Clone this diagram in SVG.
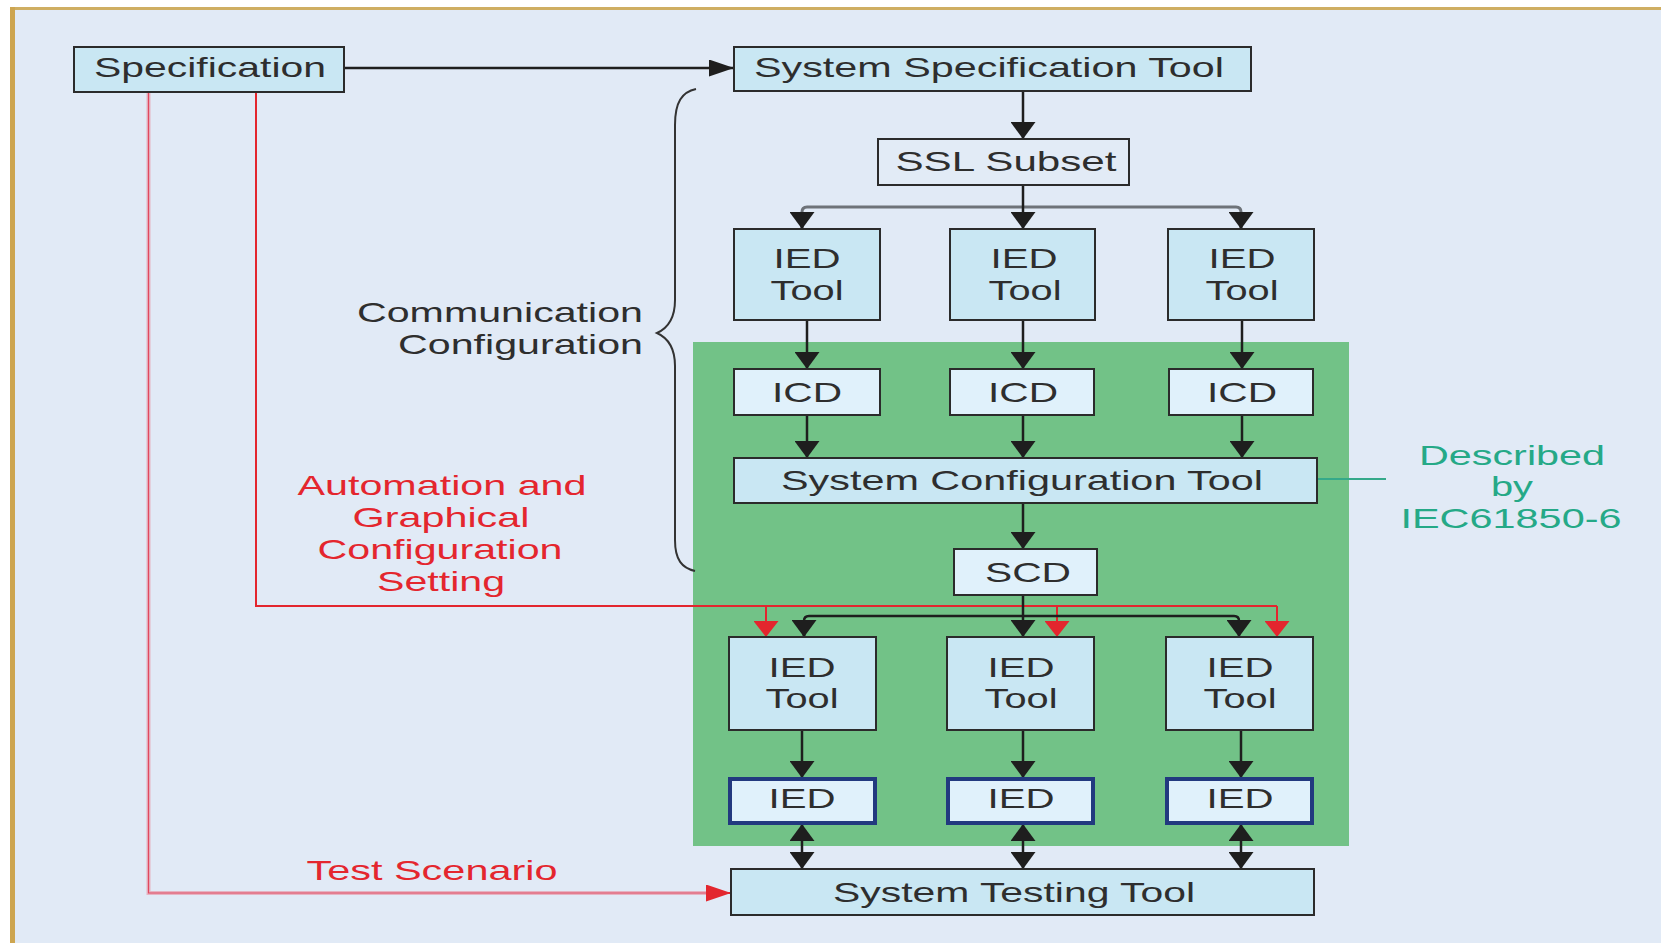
<svg xmlns="http://www.w3.org/2000/svg" width="1661" height="943" viewBox="0 0 1661 943">
  <style>
    .t { font-family: "Liberation Sans", Arial, sans-serif; font-size: 28px; fill: #2e2e2e; text-anchor: middle; }
    .tr { fill: #e4262e; }
    .tg { fill: #25a987; }
    .tl { text-anchor: end; }
    .box { fill: #c9e7f3; stroke: #2b2b2b; stroke-width: 2; }
    .lbox { fill: #e0f1fb; stroke: #2b2b2b; stroke-width: 2; }
    .plain { fill: #e2ebf6; stroke: #2b2b2b; stroke-width: 2; }
    .ied { fill: #e0f1fb; stroke: #22397f; stroke-width: 4; }
    .ln { fill: none; stroke: #1e1e1e; stroke-width: 2.5; }
    .grey { fill: none; stroke: #6e7379; stroke-width: 3; }
    .red { fill: none; stroke: #e3262e; stroke-width: 2; }
    .pinkO { fill: none; stroke: #e6b3c2; stroke-width: 4; }
    .pinkI { fill: none; stroke: #e0485e; stroke-width: 1.2; }
  </style>
  <defs>
    <marker id="ahV" markerUnits="userSpaceOnUse" markerWidth="17" markerHeight="25" viewBox="0 0 17 25" refX="17" refY="12.5" orient="auto-start-reverse">
      <path d="M0,0 L17,12.5 L0,25 Z" fill="#1e1e1e"/>
    </marker>
    <marker id="ahH" markerUnits="userSpaceOnUse" markerWidth="25" markerHeight="17" viewBox="0 0 25 17" refX="25" refY="8.5" orient="auto">
      <path d="M0,0 L25,8.5 L0,17 Z" fill="#1e1e1e"/>
    </marker>
    <marker id="ahVr" markerUnits="userSpaceOnUse" markerWidth="16" markerHeight="25" viewBox="0 0 16 25" refX="16" refY="12.5" orient="auto">
      <path d="M0,0 L16,12.5 L0,25 Z" fill="#e3262e"/>
    </marker>
    <marker id="ahHr" markerUnits="userSpaceOnUse" markerWidth="25" markerHeight="17" viewBox="0 0 25 17" refX="25" refY="8.5" orient="auto">
      <path d="M0,0 L25,8.5 L0,17 Z" fill="#e3262e"/>
    </marker>
  </defs>

  <!-- page and frame -->
  <rect x="0" y="0" width="1661" height="943" fill="#ffffff"/>
  <rect x="10" y="7" width="1651" height="936" fill="#e1eaf6"/>
  <rect x="10" y="7" width="1651" height="3" fill="#cfae62"/>
  <rect x="10" y="7" width="5" height="936" fill="#cda550"/>

  <!-- shaded region -->
  <rect id="iec-area" x="693" y="342" width="656" height="504" fill="#72c287"/>

  <!-- brace -->
  <path id="brace" d="M696,89 C682,92 675,102 675,125 L675,300 C675,318 668,328 657,333 C668,338 675,348 675,366 L675,540 C675,560 682,568 695,571" fill="none" stroke="#333" stroke-width="2"/>

  <!-- connectors -->
  <g id="connectors">
    <!-- specification paths -->
    <path class="pinkO" d="M148.5,92 L148.5,893 L708,893"/>
    <path class="pinkI" d="M148.5,92 L148.5,893 L708,893"/>
    <path class="red" d="M706,893 L731,893" marker-end="url(#ahHr)"/>
    <path class="red" d="M256,92 L256,606 L1277,606"/>
    <path class="red" d="M766,606 L766,637" marker-end="url(#ahVr)"/>
    <path class="red" d="M1057,606 L1057,637" marker-end="url(#ahVr)"/>
    <path class="red" d="M1277,606 L1277,637" marker-end="url(#ahVr)"/>
    <path class="ln" d="M344,68 L734,68" marker-end="url(#ahH)"/>
    <!-- system specification to SSL -->
    <path class="ln" d="M1023,91 L1023,139" marker-end="url(#ahV)"/>
    <!-- SSL fan-out -->
    <path class="grey" d="M802,229 L802,212 Q802,207 807,207 L1236,207 Q1241,207 1241,212 L1241,229"/>
    <path class="ln" d="M1023,185 L1023,229" marker-end="url(#ahV)"/>
    <path class="ln" d="M802,212 L802,229" marker-end="url(#ahV)"/>
    <path class="ln" d="M1241,212 L1241,229" marker-end="url(#ahV)"/>
    <!-- IED tools to ICD -->
    <path class="ln" d="M807,320 L807,369" marker-end="url(#ahV)"/>
    <path class="ln" d="M1023,320 L1023,369" marker-end="url(#ahV)"/>
    <path class="ln" d="M1242,320 L1242,369" marker-end="url(#ahV)"/>
    <!-- ICD to system configuration -->
    <path class="ln" d="M807,415 L807,458" marker-end="url(#ahV)"/>
    <path class="ln" d="M1023,415 L1023,458" marker-end="url(#ahV)"/>
    <path class="ln" d="M1242,415 L1242,458" marker-end="url(#ahV)"/>
    <!-- system configuration to SCD -->
    <path class="ln" d="M1023,503 L1023,549" marker-end="url(#ahV)"/>
    <!-- SCD fan-out -->
    <path class="ln" d="M804,637 L804,621 Q804,616 809,616 L1234,616 Q1239,616 1239,621 L1239,637" marker-end="url(#ahV)"/>
    <path class="ln" d="M804,621 L804,637" marker-end="url(#ahV)"/>
    <path class="ln" d="M1023,595 L1023,637" marker-end="url(#ahV)"/>
    <!-- IED tools to IEDs -->
    <path class="ln" d="M802,730 L802,778" marker-end="url(#ahV)"/>
    <path class="ln" d="M1023,730 L1023,778" marker-end="url(#ahV)"/>
    <path class="ln" d="M1241,730 L1241,778" marker-end="url(#ahV)"/>
    <!-- IEDs to testing tool -->
    <path class="ln" d="M802,824 L802,869" marker-start="url(#ahV)" marker-end="url(#ahV)"/>
    <path class="ln" d="M1023,824 L1023,869" marker-start="url(#ahV)" marker-end="url(#ahV)"/>
    <path class="ln" d="M1241,824 L1241,869" marker-start="url(#ahV)" marker-end="url(#ahV)"/>
    <!-- standard reference -->
    <path d="M1317,479 L1386,479" fill="none" stroke="#35a98a" stroke-width="2"/>
  </g>

  <g id="specification">
    <rect class="box" x="74" y="47" width="270" height="45"/>
    <text class="t" x="210" y="77" textLength="232" lengthAdjust="spacingAndGlyphs">Specification</text>
  </g>
  <g id="system-specification-tool">
    <rect class="box" x="734" y="47" width="517" height="44"/>
    <text class="t" x="989" y="77" textLength="470" lengthAdjust="spacingAndGlyphs">System Specification Tool</text>
  </g>
  <g id="ssl-subset">
    <rect class="plain" x="878" y="139" width="251" height="46"/>
    <text class="t" x="1006" y="171" textLength="221" lengthAdjust="spacingAndGlyphs">SSL Subset</text>
  </g>

  <g id="ied-tool-1a">
    <rect class="box" x="734" y="229" width="146" height="91"/>
    <text class="t" x="807" y="268" textLength="67" lengthAdjust="spacingAndGlyphs">IED</text>
    <text class="t" x="807" y="300" textLength="73" lengthAdjust="spacingAndGlyphs">Tool</text>
  </g>
  <g id="ied-tool-2a">
    <rect class="box" x="950" y="229" width="145" height="91"/>
    <text class="t" x="1024" y="268" textLength="67" lengthAdjust="spacingAndGlyphs">IED</text>
    <text class="t" x="1025" y="300" textLength="73" lengthAdjust="spacingAndGlyphs">Tool</text>
  </g>
  <g id="ied-tool-3a">
    <rect class="box" x="1168" y="229" width="146" height="91"/>
    <text class="t" x="1242" y="268" textLength="67" lengthAdjust="spacingAndGlyphs">IED</text>
    <text class="t" x="1242" y="300" textLength="73" lengthAdjust="spacingAndGlyphs">Tool</text>
  </g>

  <g id="icd-1">
    <rect class="lbox" x="734" y="369" width="146" height="46"/>
    <text class="t" x="807" y="402" textLength="70" lengthAdjust="spacingAndGlyphs">ICD</text>
  </g>
  <g id="icd-2">
    <rect class="lbox" x="950" y="369" width="144" height="46"/>
    <text class="t" x="1023" y="402" textLength="70" lengthAdjust="spacingAndGlyphs">ICD</text>
  </g>
  <g id="icd-3">
    <rect class="lbox" x="1169" y="369" width="144" height="46"/>
    <text class="t" x="1242" y="402" textLength="70" lengthAdjust="spacingAndGlyphs">ICD</text>
  </g>

  <g id="system-configuration-tool">
    <rect class="box" x="734" y="458" width="583" height="45"/>
    <text class="t" x="1022" y="490" textLength="482" lengthAdjust="spacingAndGlyphs">System Configuration Tool</text>
  </g>
  <g id="scd">
    <rect class="lbox" x="954" y="549" width="143" height="46"/>
    <text class="t" x="1028" y="582" textLength="86" lengthAdjust="spacingAndGlyphs">SCD</text>
  </g>

  <g id="ied-tool-1b">
    <rect class="box" x="729" y="637" width="147" height="93"/>
    <text class="t" x="802" y="677" textLength="67" lengthAdjust="spacingAndGlyphs">IED</text>
    <text class="t" x="802" y="708" textLength="73" lengthAdjust="spacingAndGlyphs">Tool</text>
  </g>
  <g id="ied-tool-2b">
    <rect class="box" x="947" y="637" width="147" height="93"/>
    <text class="t" x="1021" y="677" textLength="67" lengthAdjust="spacingAndGlyphs">IED</text>
    <text class="t" x="1021" y="708" textLength="73" lengthAdjust="spacingAndGlyphs">Tool</text>
  </g>
  <g id="ied-tool-3b">
    <rect class="box" x="1166" y="637" width="147" height="93"/>
    <text class="t" x="1240" y="677" textLength="67" lengthAdjust="spacingAndGlyphs">IED</text>
    <text class="t" x="1240" y="708" textLength="73" lengthAdjust="spacingAndGlyphs">Tool</text>
  </g>

  <g id="ied-1">
    <rect class="ied" x="730" y="779" width="145" height="44"/>
    <text class="t" x="802" y="808" textLength="67" lengthAdjust="spacingAndGlyphs">IED</text>
  </g>
  <g id="ied-2">
    <rect class="ied" x="948" y="779" width="145" height="44"/>
    <text class="t" x="1021" y="808" textLength="67" lengthAdjust="spacingAndGlyphs">IED</text>
  </g>
  <g id="ied-3">
    <rect class="ied" x="1167" y="779" width="145" height="44"/>
    <text class="t" x="1240" y="808" textLength="67" lengthAdjust="spacingAndGlyphs">IED</text>
  </g>

  <g id="system-testing-tool">
    <rect class="box" x="731" y="869" width="583" height="46"/>
    <text class="t" x="1014" y="902" textLength="362" lengthAdjust="spacingAndGlyphs">System Testing Tool</text>
  </g>

  <g id="label-communication">
    <text class="t tl" x="643" y="322" textLength="286" lengthAdjust="spacingAndGlyphs">Communication</text>
    <text class="t tl" x="643" y="354" textLength="245" lengthAdjust="spacingAndGlyphs">Configuration</text>
  </g>
  <g id="label-automation">
    <text class="t tr" x="442" y="495" textLength="289" lengthAdjust="spacingAndGlyphs">Automation and</text>
    <text class="t tr" x="441" y="527" textLength="177" lengthAdjust="spacingAndGlyphs">Graphical</text>
    <text class="t tr" x="440" y="559" textLength="245" lengthAdjust="spacingAndGlyphs">Configuration</text>
    <text class="t tr" x="441" y="591" textLength="128" lengthAdjust="spacingAndGlyphs">Setting</text>
  </g>
  <g id="label-test">
    <text class="t tr" x="432" y="880" textLength="251" lengthAdjust="spacingAndGlyphs">Test Scenario</text>
  </g>
  <g id="label-standard">
    <text class="t tg" x="1512" y="465" textLength="186" lengthAdjust="spacingAndGlyphs">Described</text>
    <text class="t tg" x="1512" y="496" textLength="42" lengthAdjust="spacingAndGlyphs">by</text>
    <text class="t tg" x="1511" y="528" textLength="221" lengthAdjust="spacingAndGlyphs">IEC61850-6</text>
  </g>
</svg>
